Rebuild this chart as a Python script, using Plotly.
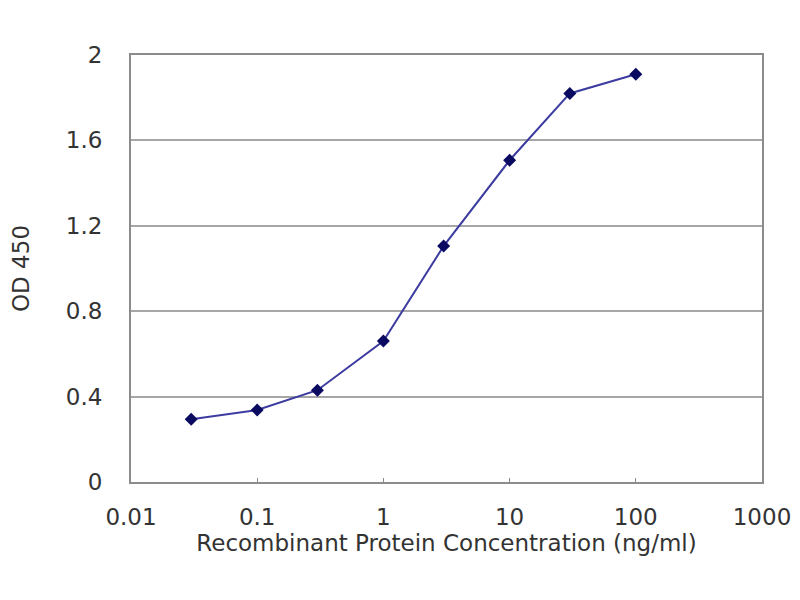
import plotly.graph_objects as go

conc = [0.03, 0.1, 0.3, 1, 3, 10, 30, 100]
od450 = [0.294, 0.337, 0.43, 0.66, 1.105, 1.507, 1.82, 1.91]

x_ticks = [0.01, 0.1, 1, 10, 100, 1000]
x_labels = ["0.01", "0.1", "1", "10", "100", "1000"]
y_ticks = [0, 0.4, 0.8, 1.2, 1.6, 2]
y_labels = ["0", "0.4", "0.8", "1.2", "1.6", "2"]

font_name = "DejaVu Sans"
text_color = "#333333"
grid_color = "#a6a6a6"

fig = go.Figure()
fig.add_trace(
    go.Scatter(
        x=conc,
        y=od450,
        mode="lines+markers",
        line=dict(color="#3c3ca0", width=2),
        marker=dict(symbol="diamond", size=10, color="#0a0a60"),
        showlegend=False,
    )
)

fig.update_layout(
    width=800,
    height=600,
    paper_bgcolor="white",
    plot_bgcolor="white",
    margin=dict(l=119, r=46, t=47, b=126),
    font=dict(family=font_name, size=23, color=text_color),
    xaxis=dict(
        type="log",
        range=[-2, 3],
        tickvals=x_ticks,
        ticktext=x_labels,
        ticks="inside",
        ticklen=4,
        tickcolor="#888888",
        showgrid=False,
        showline=True,
        linecolor="#8c8c8c",
        linewidth=2,
        mirror=True,
        ticklabelstandoff=13,
        title=dict(text="Recombinant Protein Concentration (ng/ml)", standoff=0, font=dict(size=23)),
    ),
    yaxis=dict(
        range=[0, 2],
        tickvals=y_ticks,
        ticktext=y_labels,
        ticks="",
        showgrid=True,
        gridcolor=grid_color,
        gridwidth=2,
        showline=True,
        linecolor="#8c8c8c",
        linewidth=2,
        mirror=True,
        zeroline=False,
        ticklabelstandoff=22,
        title=dict(text="OD 450", standoff=30, font=dict(size=23)),
    ),
)

fig.write_html("out.html")
